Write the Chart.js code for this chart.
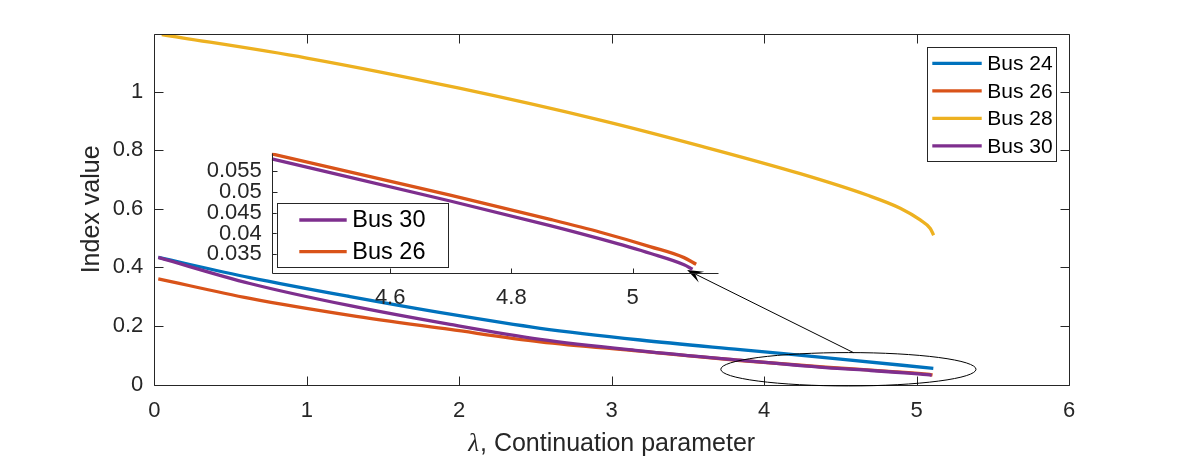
<!DOCTYPE html>
<html><head><meta charset="utf-8">
<script src="https://cdn.jsdelivr.net/npm/chart.js@4.4.1/dist/chart.umd.min.js"></script>
<style>
html,body{margin:0;padding:0;background:#fff;}
#wrap{position:relative;width:1182px;height:458px;}
canvas{position:absolute;left:0;top:0;}
#inset{pointer-events:none;}
</style>
</head><body>
<div id="wrap"><canvas id="main" width="1182" height="458"></canvas><canvas id="inset" width="1182" height="458"></canvas></div>
<script>
// ---- data ----
const busX24 = [0.026, 0.627, 1.284, 1.94, 2.531, 3.187, 3.843, 4.5, 5.11];
const bus24  = [0.434, 0.365, 0.300, 0.240, 0.192, 0.152, 0.119, 0.087, 0.055];
const busX26 = [0.026, 0.627, 1.284, 1.94, 2.531, 3.187, 3.843, 4.4045, 4.699, 4.864, 4.947, 5.03, 5.085, 5.105];
const bus26  = [0.361, 0.294, 0.236, 0.188, 0.146, 0.114, 0.082, 0.0591, 0.0492, 0.0434, 0.0403, 0.0368, 0.0342, 0.0326];
const busX28 = [0.049, 1, 2, 2.925, 3.58, 4.237, 4.675, 4.893, 5.024, 5.09, 5.112];
const bus28  = [1.195, 1.115, 1.012, 0.903, 0.815, 0.720, 0.647, 0.602, 0.562, 0.533, 0.510];
const busX30 = [0.026, 0.627, 1.284, 1.94, 2.531, 3.187, 3.843, 4.4045, 4.699, 4.864, 4.947, 5.03, 5.085, 5.099];
const bus30  = [0.434, 0.345, 0.269, 0.205, 0.154, 0.115, 0.083, 0.0579, 0.0478, 0.0419, 0.0387, 0.0352, 0.0325, 0.0314];

const xTicks = [0, 1, 2, 3, 4, 5, 6];
const xTickLabels = ['0', '1', '2', '3', '4', '5', '6'];
const yTicks = [0, 0.2, 0.4, 0.6, 0.8, 1];
const yTickLabels = ['0', '0.2', '0.4', '0.6', '0.8', '1'];
const insetXTicks = [4.6, 4.8, 5];
const insetXTickLabels = ['4.6', '4.8', '5'];
const insetYTicks = [0.035, 0.04, 0.045, 0.05, 0.055];
const insetYTickLabels = ['0.035', '0.04', '0.045', '0.05', '0.055'];

const mainRange = {xMin: 0, xMax: 6, yMin: 0, yMax: 1.196};
const insetRange = {xMin: 4.4045, xMax: 5.1415, yMin: 0.03058, yMax: 0.0594};
const zoomEllipse = {cx: 4.553, cy: 0.052, rx: 0.837, ry: 0.057};
const zoomArrow = {x0: 4.587, y0: 0.1086, x1: 3.495, y1: 0.391};

const COLORS = {'Bus 24': '#0072BD', 'Bus 26': '#D95319', 'Bus 28': '#EDB120', 'Bus 30': '#7E2F8E'};
const SANS = '"Liberation Sans", Arial, sans-serif';
const AXC = '#262626';
const LW = 3.3;

function pts(xs, ys) { return xs.map((x, i) => ({x: x, y: ys[i]})); }
function ds(label, xs, ys, order) {
  return {label: label, data: pts(xs, ys), borderColor: COLORS[label], backgroundColor: COLORS[label],
    borderWidth: LW, pointRadius: 0, fill: false, cubicInterpolationMode: 'monotone', order: order};
}
function fixTicks(values, labels) {
  return function (scale) { scale.ticks = values.map((v, i) => ({value: v, label: labels[i]})); };
}

// frame + inward ticks
function framePlugin(full, tl) {
  return {
    id: 'frame',
    afterDatasetsDraw(chart) {
      const {ctx, chartArea: a, scales: {x, y}} = chart;
      const L = Math.round(a.left) + 0.5, R = Math.round(a.right) + 0.5;
      const T = Math.round(a.top) + 0.5, B = Math.round(a.bottom) + 0.5;
      ctx.save();
      ctx.strokeStyle = AXC; ctx.lineWidth = 1;
      ctx.beginPath();
      if (full) { ctx.rect(L, T, R - L, B - T); }
      else { ctx.moveTo(L, T); ctx.lineTo(L, B); ctx.lineTo(R, B); }
      x.ticks.forEach(t => {
        const p = Math.round(x.getPixelForValue(t.value)) + 0.5;
        ctx.moveTo(p, B); ctx.lineTo(p, B - tl);
        if (full) { ctx.moveTo(p, T); ctx.lineTo(p, T + tl); }
      });
      y.ticks.forEach(t => {
        const p = Math.round(y.getPixelForValue(t.value)) + 0.5;
        ctx.moveTo(L, p); ctx.lineTo(L + tl, p);
        if (full) { ctx.moveTo(R, p); ctx.lineTo(R - tl, p); }
      });
      ctx.stroke();
      ctx.restore();
    }
  };
}

function legendPlugin(box, rowY, rowStep, lineX0, lineX1, textX, fontSize) {
  return {
    id: 'boxLegend',
    afterDraw(chart) {
      const ctx = chart.ctx;
      ctx.save();
      ctx.fillStyle = '#fff';
      ctx.fillRect(box.x, box.y, box.w, box.h);
      ctx.strokeStyle = AXC; ctx.lineWidth = 1;
      ctx.strokeRect(Math.round(box.x) + 0.5, Math.round(box.y) + 0.5, Math.round(box.w), Math.round(box.h));
      ctx.font = fontSize + 'px ' + SANS;
      ctx.textBaseline = 'middle'; ctx.textAlign = 'left';
      chart.data.datasets.forEach((d, i) => {
        const yy = rowY + i * rowStep;
        ctx.strokeStyle = d.borderColor; ctx.lineWidth = LW;
        ctx.beginPath(); ctx.moveTo(lineX0, yy); ctx.lineTo(lineX1, yy); ctx.stroke();
        ctx.fillStyle = '#000';
        ctx.fillText(d.label, textX, yy + 1);
      });
      ctx.restore();
    }
  };
}

const xTitlePlugin = {
  id: 'xTitle',
  afterDraw(chart) {
    const {ctx, chartArea: a} = chart;
    const lam = '\u03BB', rest = ', Continuation parameter';
    ctx.save();
    ctx.fillStyle = AXC; ctx.textBaseline = 'alphabetic'; ctx.textAlign = 'left';
    const fLam = 'italic 25px "Liberation Serif", "Times New Roman", serif';
    const fRest = '25px ' + SANS;
    ctx.font = fLam; const w1 = ctx.measureText(lam).width;
    ctx.font = fRest; const w2 = ctx.measureText(rest).width;
    const cx = (a.left + a.right) / 2;
    const x0 = cx - (w1 + w2 + 1) / 2;
    const by = 451;
    ctx.font = fLam; ctx.fillText(lam, x0, by);
    ctx.font = fRest; ctx.fillText(rest, x0 + w1 + 1, by);
    ctx.restore();
  }
};

const annotationPlugin = {
  id: 'zoomMark',
  afterDatasetsDraw(chart) {
    const {ctx, scales: {x, y}} = chart;
    ctx.save();
    ctx.strokeStyle = '#000'; ctx.lineWidth = 1;
    const cx = x.getPixelForValue(zoomEllipse.cx), cy = y.getPixelForValue(zoomEllipse.cy);
    const rx = x.getPixelForValue(zoomEllipse.cx + zoomEllipse.rx) - cx;
    const ry = cy - y.getPixelForValue(zoomEllipse.cy + zoomEllipse.ry);
    ctx.beginPath(); ctx.ellipse(cx, cy, rx, ry, 0, 0, Math.PI * 2); ctx.stroke();
    const ax0 = x.getPixelForValue(zoomArrow.x0), ay0 = y.getPixelForValue(zoomArrow.y0);
    const ax1 = x.getPixelForValue(zoomArrow.x1), ay1 = y.getPixelForValue(zoomArrow.y1);
    const ang = Math.atan2(ay1 - ay0, ax1 - ax0);
    const len = 16, half = 6, notch = 9;
    ctx.beginPath(); ctx.moveTo(ax0, ay0);
    ctx.lineTo(ax1 - notch * Math.cos(ang), ay1 - notch * Math.sin(ang)); ctx.stroke();
    ctx.fillStyle = '#000';
    ctx.beginPath();
    ctx.moveTo(ax1, ay1);
    ctx.lineTo(ax1 - len * Math.cos(ang) + half * Math.sin(ang), ay1 - len * Math.sin(ang) - half * Math.cos(ang));
    ctx.lineTo(ax1 - notch * Math.cos(ang), ay1 - notch * Math.sin(ang));
    ctx.lineTo(ax1 - len * Math.cos(ang) - half * Math.sin(ang), ay1 - len * Math.sin(ang) + half * Math.cos(ang));
    ctx.closePath(); ctx.fill();
    ctx.restore();
  }
};

const tickFont = {family: SANS, size: 22};

new Chart(document.getElementById('main'), {
  type: 'line',
  data: {datasets: [
    ds('Bus 24', busX24, bus24, 4),
    ds('Bus 26', busX26, bus26, 3),
    ds('Bus 28', busX28, bus28, 2),
    ds('Bus 30', busX30, bus30, 1)
  ]},
  options: {
    responsive: false, animation: false, devicePixelRatio: window.devicePixelRatio || 1,
    layout: {padding: {left: 0, top: 34.3, right: 113, bottom: 0}},
    plugins: {legend: {display: false}, tooltip: {enabled: false}},
    scales: {
      x: {type: 'linear', min: mainRange.xMin, max: mainRange.xMax,
        grid: {display: false, drawTicks: false}, border: {display: false},
        ticks: {font: tickFont, color: AXC, padding: 12.8, maxRotation: 0, autoSkip: false,
          callback: function (v) { const i = xTicks.indexOf(v); return i >= 0 ? xTickLabels[i] : ''; }},
        afterBuildTicks: fixTicks(xTicks, xTickLabels),
        afterFit(s) { s.height = 458 - 384.5; }
      },
      y: {type: 'linear', min: mainRange.yMin, max: mainRange.yMax,
        grid: {display: false, drawTicks: false}, border: {display: false},
        ticks: {font: tickFont, color: AXC, padding: 11, autoSkip: false,
          callback: function (v) { const i = yTicks.indexOf(v); return i >= 0 ? yTickLabels[i] : ''; }},
        afterBuildTicks: fixTicks(yTicks, yTickLabels),
        title: {display: true, text: 'Index value', color: AXC, font: {family: SANS, size: 25}, padding: {top: 77, bottom: 0}},
        afterFit(s) { s.width = 154.3; }
      }
    }
  },
  plugins: [framePlugin(true, 9), annotationPlugin, xTitlePlugin,
    legendPlugin({x: 927.3, y: 47.3, w: 128.7, h: 113.7}, 63.3, 27.5, 932.3, 981.7, 987.3, 21)]
});

function insetSeries(label, xs, ys, order) {
  const xi = [], yi = [];
  xs.forEach((v, i) => { if (v >= insetRange.xMin - 1e-9) { xi.push(v); yi.push(ys[i]); } });
  return ds(label, xi, yi, order);
}

new Chart(document.getElementById('inset'), {
  type: 'line',
  data: {datasets: [
    insetSeries('Bus 30', busX30, bus30, 2),
    insetSeries('Bus 26', busX26, bus26, 1)
  ]},
  options: {
    responsive: false, animation: false, devicePixelRatio: window.devicePixelRatio || 1,
    layout: {padding: {left: 0, top: 152.7, right: 1182 - 718.3, bottom: 0}},
    plugins: {legend: {display: false}, tooltip: {enabled: false}},
    scales: {
      x: {type: 'linear', min: insetRange.xMin, max: insetRange.xMax,
        grid: {display: false, drawTicks: false}, border: {display: false},
        ticks: {font: tickFont, color: AXC, padding: 11.6, maxRotation: 0, autoSkip: false,
          callback: function (v) { const i = insetXTicks.indexOf(v); return i >= 0 ? insetXTickLabels[i] : ''; }},
        afterBuildTicks: fixTicks(insetXTicks, insetXTickLabels),
        afterFit(s) { s.height = 458 - 272.7; }
      },
      y: {type: 'linear', min: insetRange.yMin, max: insetRange.yMax,
        grid: {display: false, drawTicks: false}, border: {display: false},
        ticks: {font: tickFont, color: AXC, padding: 10, autoSkip: false,
          callback: function (v) { const i = insetYTicks.indexOf(v); return i >= 0 ? insetYTickLabels[i] : ''; }},
        afterBuildTicks: fixTicks(insetYTicks, insetYTickLabels),
        afterFit(s) { s.width = 271.7; }
      }
    }
  },
  plugins: [framePlugin(false, 5),
    legendPlugin({x: 276.7, y: 203.3, w: 170.6, h: 64.4}, 220, 31.7, 299.3, 346.7, 352.3, 23.5)]
});
</script>
</body></html>
